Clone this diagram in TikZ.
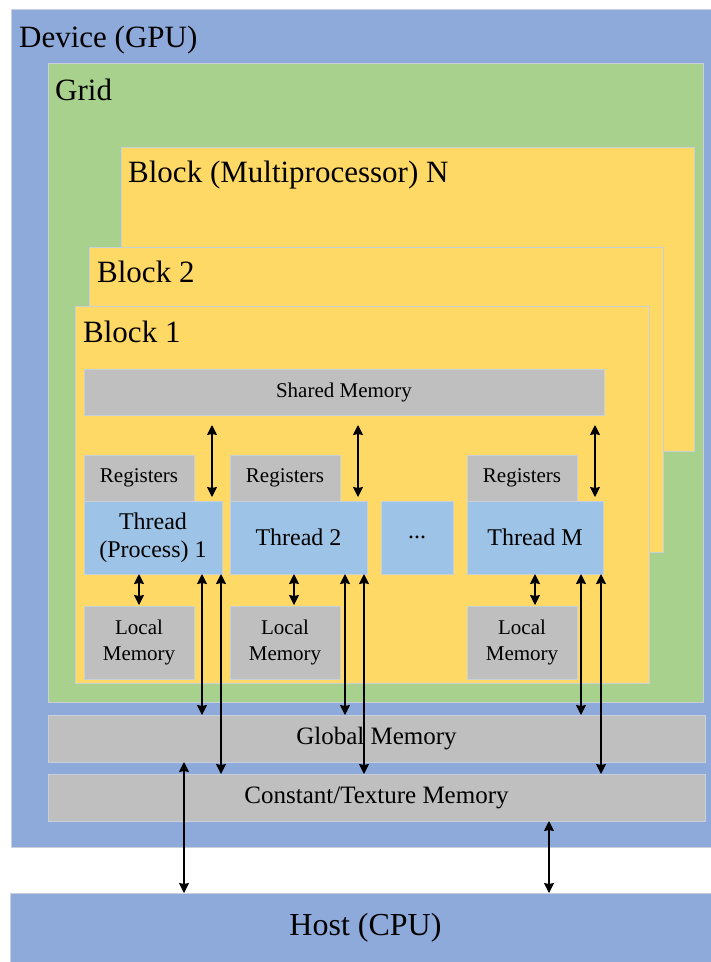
\documentclass[tikz,border=0pt]{standalone}
\usepackage{fontspec}
\setmainfont{Liberation Serif}
\usetikzlibrary{arrows.meta}

\definecolor{devblue}{HTML}{8EAADB}
\definecolor{gridgreen}{HTML}{A9D18E}
\definecolor{blockyellow}{HTML}{FFD966}
\definecolor{memgray}{HTML}{BFBFBF}
\definecolor{threadblue}{HTML}{9DC3E6}
\definecolor{rimgray}{HTML}{C9D0DA}

\tikzset{
  area/.style={draw=rimgray, line width=.8pt, inner sep=0pt, outer sep=0pt, anchor=north west},
  membox/.style={area, fill=memgray, font=\fontsize{21}{26}\selectfont, align=center},
  thrbox/.style={area, fill=threadblue, font=\fontsize{24}{28}\selectfont, align=center},
  bigbox/.style={area, fill=memgray, font=\fontsize{25}{30}\selectfont},
  title/.style={inner sep=0pt, anchor=base west, font=\fontsize{31}{37}\selectfont},
  biarrow/.style={line width=1.3pt, {Stealth[length=10pt,width=10pt,inset=1pt]}-{Stealth[length=10pt,width=10pt,inset=1pt]}}
}

\begin{document}
\begin{tikzpicture}[x=1pt, y=-1pt]
\useasboundingbox (0,0) rectangle (711,962);

% nested areas
\node[area, fill=devblue, minimum width=700, minimum height=838] (device) at (11,9) {};
\node[title] (devicetitle) at (19,47) {Device (GPU)};
\node[area, fill=gridgreen, minimum width=655, minimum height=639] (grid) at (48,63) {};
\node[title] (gridtitle) at (55,100) {Grid};
\node[area, fill=blockyellow, minimum width=573, minimum height=304] (blockN) at (121,147) {};
\node[title] (blockNtitle) at (128,182) {Block (Multiprocessor) N};
\node[area, fill=blockyellow, minimum width=574, minimum height=305] (block2) at (89,247) {};
\node[title] (block2title) at (97,282) {Block 2};
\node[area, fill=blockyellow, minimum width=574, minimum height=377] (block1) at (75,306) {};
\node[title] (block1title) at (83,342) {Block 1};

% inside block 1
\node[membox, minimum width=520, minimum height=46] (shared) at (84,369) {Shared Memory};
\node[membox, minimum width=110, minimum height=46] (reg1) at (84,455) {Registers};
\node[membox, minimum width=110, minimum height=46] (reg2) at (230,455) {Registers};
\node[membox, minimum width=110, minimum height=46] (regM) at (467,455) {Registers};
\node[thrbox, minimum width=138, minimum height=73] (thread1) at (84,501) {Thread\\(Process) 1};
\node[thrbox, minimum width=137, minimum height=73] (thread2) at (230,501) {Thread 2};
\node[thrbox, minimum width=72, minimum height=73] (dots) at (381,501) {...};
\node[thrbox, minimum width=136, minimum height=73] (threadM) at (467,501) {Thread M};
\node[membox, minimum width=110, minimum height=73] (local1) at (84,606) {Local\\Memory};
\node[membox, minimum width=110, minimum height=73] (local2) at (230,606) {Local\\Memory};
\node[membox, minimum width=110, minimum height=73] (localM) at (467,606) {Local\\Memory};

% device memories and host
\node[bigbox, minimum width=657, minimum height=47] (global) at (48,715) {Global Memory};
\node[bigbox, minimum width=657, minimum height=47] (constant) at (48,774) {Constant/Texture Memory};
\node[area, fill=devblue, minimum width=701, minimum height=69, font=\fontsize{32}{38}\selectfont] (host) at (10,893) {\hspace{10pt}Host (CPU)};

% connectors
\foreach \t/\x in {thread1/212, thread2/358, threadM/595}
  \draw[biarrow, shorten <=10pt, shorten >=4pt] (shared.south -| \x,0) -- (\t.north -| \x,0);
\foreach \t/\l/\x in {thread1/local1/139, thread2/local2/294, threadM/localM/535}
  \draw[biarrow, shorten >=1pt] (\t.south -| \x,0) -- (\l.north -| \x,0);
\foreach \t/\xa/\xb in {thread1/202/221, thread2/345/364, threadM/581/601}{
  \draw[biarrow] (\t.south -| \xa,0) -- (global.north -| \xa,0);
  \draw[biarrow] (\t.south -| \xb,0) -- (constant.north -| \xb,0);
}
\draw[biarrow] (global.south -| 184,0) -- (host.north -| 184,0);
\draw[biarrow] (constant.south -| 549,0) -- (host.north -| 549,0);
\end{tikzpicture}
\end{document}
